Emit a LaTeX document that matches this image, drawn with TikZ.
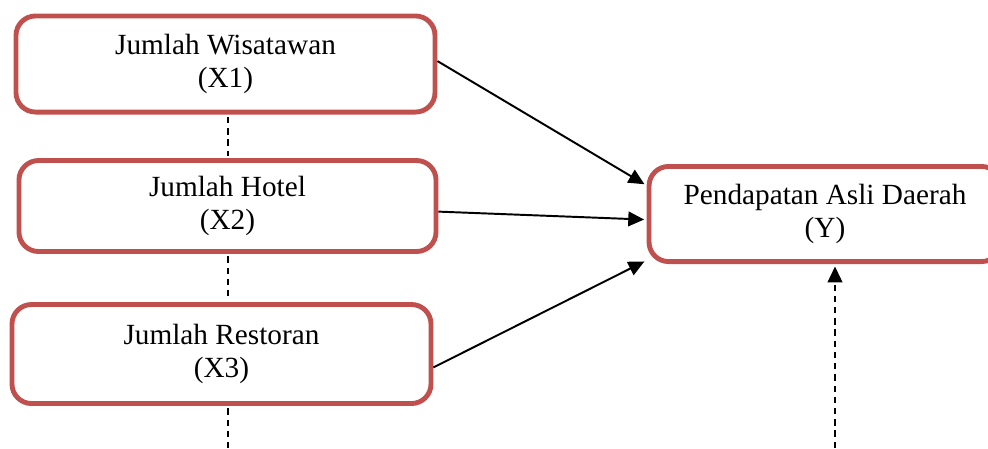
\documentclass[tikz,border=0pt]{standalone}
\usepackage{fontspec}
\setmainfont{Liberation Serif}
\usetikzlibrary{arrows.meta,positioning,calc}
\definecolor{boxred}{RGB}{192,80,77}

\begin{document}
\begin{tikzpicture}[x=0.41pt, y=-0.41pt,
    varbox/.style={rectangle, draw=boxred, line width=2pt, rounded corners=8pt, fill=white, align=center, inner sep=0pt, font=\fontsize{12}{13.8}\selectfont},
    effect/.style={-{Triangle[length=6.5pt,width=6pt]}, line width=0.8pt, shorten >=1pt},
    link/.style={dash pattern=on 2.6pt off 2pt, line width=0.85pt}]
    \useasboundingbox (0,0) rectangle (988,448);
    \clip (0,0) rectangle (988,448);

    \node[varbox, minimum width=171.8pt, minimum height=39.4pt] (x1) at (225.5,64) {Jumlah Wisatawan \\ (X1)};
    \node[varbox, minimum width=171pt, minimum height=37.3pt] (x2) at (227.5,206) {Jumlah Hotel \\ (X2)};
    \node[varbox, minimum width=171.8pt, minimum height=40.6pt] (x3) at (221.5,354) {Jumlah Restoran \\ (X3)};
    \node[varbox, minimum width=144.3pt, minimum height=39pt] (y) at (825,214) {Pendapatan Asli Daerah \\ (Y)};

    \coordinate (bl) at (228,448);
    \coordinate (br) at (835,448);

    % independent variables to Y
    \draw[effect] ([yshift=1.2pt]x1.east) -- ([yshift=11.7pt]y.west);
    \draw[effect] ([yshift=-2.3pt]x2.east) -- ([yshift=-2.3pt]y.west);
    \draw[effect] ([yshift=-5.5pt]x3.east) -- ([yshift=-19pt]y.west);

    % dashed links
    \draw[link, shorten <=1pt, shorten >=1pt] (x1.south -| bl) -- (x2.north -| bl);
    \draw[link, shorten <=1pt, shorten >=1pt] (x2.south -| bl) -- (x3.north -| bl);
    \draw[link, shorten <=1pt] (x3.south -| bl) -- (bl);
    \draw[link, effect] (br) -- (y.south -| br);
\end{tikzpicture}
\end{document}
